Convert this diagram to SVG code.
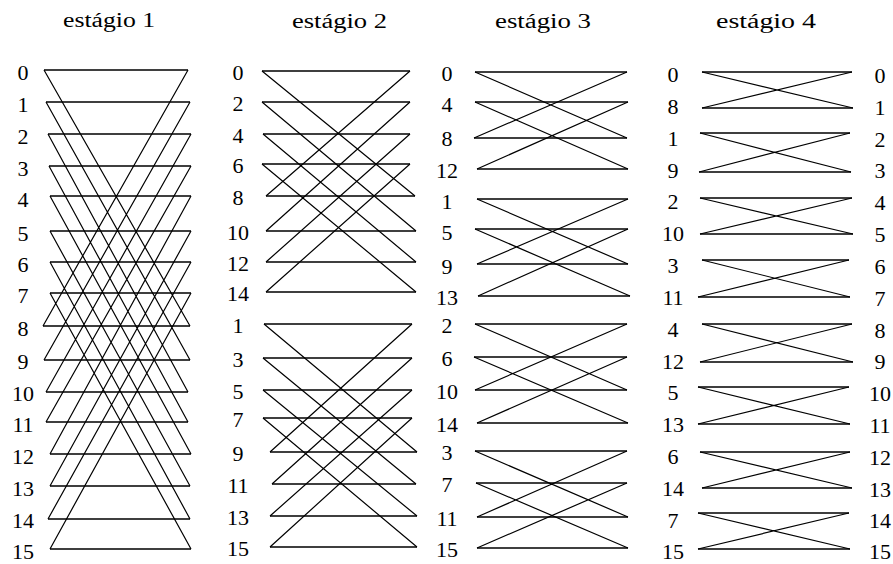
<svg xmlns="http://www.w3.org/2000/svg" width="893" height="564" viewBox="0 0 893 564">
<style>
.t{font-family:"Liberation Serif","DejaVu Serif",serif;font-size:20px;fill:#000}
.n{font-family:"Liberation Serif","DejaVu Serif",serif;font-size:22px;fill:#000;text-anchor:middle}
.h{stroke:#000;stroke-width:1.6;fill:none}
.d{stroke:#000;stroke-width:1.2;fill:none}
</style>
<rect width="893" height="564" fill="#fff"/>
<g id="titles">
<text class="t" x="63" y="27" textLength="92" lengthAdjust="spacingAndGlyphs">estágio 1</text>
<text class="t" x="292" y="28" textLength="95" lengthAdjust="spacingAndGlyphs">estágio 2</text>
<text class="t" x="495" y="28" textLength="96" lengthAdjust="spacingAndGlyphs">estágio 3</text>
<text class="t" x="716" y="28" textLength="100" lengthAdjust="spacingAndGlyphs">estágio 4</text>
</g>
<g id="stage1-labels">
<text class="n" x="23" y="80">0</text><text class="n" x="23" y="112">1</text><text class="n" x="23" y="144">2</text><text class="n" x="23" y="176">3</text>
<text class="n" x="23" y="206.5">4</text><text class="n" x="23" y="240.5">5</text><text class="n" x="23" y="272">6</text><text class="n" x="23" y="303">7</text>
<text class="n" x="23" y="336">8</text><text class="n" x="23" y="368.5">9</text><text class="n" x="23" y="400.5">10</text><text class="n" x="23" y="432">11</text>
<text class="n" x="23" y="464">12</text><text class="n" x="23" y="496">13</text><text class="n" x="23" y="528">14</text><text class="n" x="23" y="558.5">15</text>
</g>
<g id="stage2-labels">
<text class="n" x="238" y="79.5">0</text><text class="n" x="238" y="110.5">2</text><text class="n" x="238" y="142.5">4</text><text class="n" x="238" y="172.5">6</text>
<text class="n" x="238" y="204.5">8</text><text class="n" x="238" y="239.5">10</text><text class="n" x="238" y="270.5">12</text><text class="n" x="238" y="300.5">14</text>
<text class="n" x="238" y="332.5">1</text><text class="n" x="238" y="366.5">3</text><text class="n" x="238" y="398.5">5</text><text class="n" x="238" y="426.5">7</text>
<text class="n" x="238" y="460.5">9</text><text class="n" x="238" y="492.5">11</text><text class="n" x="238" y="524.5">13</text><text class="n" x="238" y="555.5">15</text>
</g>
<g id="stage3-labels">
<text class="n" x="447" y="80.5">0</text><text class="n" x="447" y="111.5">4</text><text class="n" x="447" y="145.5">8</text><text class="n" x="447" y="177.5">12</text>
<text class="n" x="447" y="208.5">1</text><text class="n" x="447" y="239.5">5</text><text class="n" x="447" y="273.5">9</text><text class="n" x="447" y="304.5">13</text>
<text class="n" x="447" y="332.5">2</text><text class="n" x="447" y="365.5">6</text><text class="n" x="447" y="398.5">10</text><text class="n" x="447" y="431.5">14</text>
<text class="n" x="447" y="459.5">3</text><text class="n" x="447" y="491.5">7</text><text class="n" x="447" y="525.5">11</text><text class="n" x="447" y="556.5">15</text>
</g>
<g id="stage4-labels">
<text class="n" x="673" y="81.5">0</text><text class="n" x="673" y="113.5">8</text><text class="n" x="673" y="145.5">1</text><text class="n" x="673" y="177.5">9</text>
<text class="n" x="673" y="208.5">2</text><text class="n" x="673" y="240.5">10</text><text class="n" x="673" y="272.5">3</text><text class="n" x="673" y="304.5">11</text>
<text class="n" x="673" y="336.5">4</text><text class="n" x="673" y="368.5">12</text><text class="n" x="673" y="399.5">5</text><text class="n" x="673" y="431.5">13</text>
<text class="n" x="673" y="463.5">6</text><text class="n" x="673" y="495.5">14</text><text class="n" x="673" y="527.5">7</text><text class="n" x="673" y="559">15</text>
</g>
<g id="output-labels">
<text class="n" x="880" y="82.5">0</text><text class="n" x="880" y="114.5">1</text><text class="n" x="880" y="146.5">2</text><text class="n" x="880" y="177.5">3</text>
<text class="n" x="880" y="209.5">4</text><text class="n" x="880" y="241.5">5</text><text class="n" x="880" y="273.5">6</text><text class="n" x="880" y="305.5">7</text>
<text class="n" x="880" y="337.5">8</text><text class="n" x="880" y="368.5">9</text><text class="n" x="880" y="400.5">10</text><text class="n" x="880" y="432.5">11</text>
<text class="n" x="880" y="464.5">12</text><text class="n" x="880" y="496.5">13</text><text class="n" x="880" y="527.5">14</text><text class="n" x="880" y="559">15</text>
</g>
<g id="connectors">
<g id="stage1-lines">
<path class="h" d="M44 70H188M46 102H190M48 134H191M49 166H191M50 196H191M50 231H191M50 262H191M50 293H191M43 326H190M44 360H190M46 392H188M46 422H188M50 454H191M50 486H190M48 519H190M50 549H191"/>
<path class="d" d="M44 70L190 326M43 326L188 70M46 102L190 360M44 360L190 102M48 134L188 392M46 392L191 134M49 166L188 422M46 422L191 166M50 196L191 454M50 454L191 196M50 231L190 486M50 486L191 231M50 262L190 519M48 519L191 262M50 293L191 549M50 549L191 293"/>
</g>
<g id="stage2-lines">
<path class="h" d="M262 71H410M262 102H410M263 134H410M262 164H410M266 196H415M266 231H416M266 262H416M266 292H416M264 324H412M263 358H412M263 390H412M263 418H412M270 452H417M272 484H416M270 516H417M270 547H417"/>
<path class="d" d="M262 71L415 196M266 196L410 71M262 102L416 231M266 231L410 102M263 134L416 262M266 262L410 134M262 164L416 292M266 292L410 164M264 324L417 452M270 452L412 324M263 358L416 484M272 484L412 358M263 390L417 516M270 516L412 390M263 418L417 547M270 547L412 418"/>
</g>
<g id="stage3-lines">
<path class="h" d="M475 72H627M475 102H628M474 138H627M477 169H628M477 199H628M475 229H628M477 264H628M478 296H630M475 324H627M474 357H627M475 390H627M477 423H628M475 451H627M476 483H627M477 517H628M477 548H628"/>
<path class="d" d="M475 72L627 138M474 138L627 72M475 102L628 169M477 169L628 102M477 199L628 264M477 264L628 199M475 229L630 296M478 296L628 229M475 324L627 390M475 390L627 324M474 357L628 423M477 423L627 357M475 451L628 517M477 517L627 451M476 483L628 548M477 548L627 483"/>
</g>
<g id="stage4-lines">
<path class="h" d="M702 72H852M702 108H853M700 133H850M699 172H851M700 198H852M700 234H853M702 260H849M698 297H850M702 324H852M700 362H853M698 387H849M698 424H850M700 452H850M702 488H852M698 513H849M698 549H850"/>
<path class="d" d="M702 72L853 108M702 108L852 72M700 133L851 172M699 172L850 133M700 198L853 234M700 234L852 198M702 260L850 297M698 297L849 260M702 324L853 362M700 362L852 324M698 387L850 424M698 424L849 387M700 452L852 488M702 488L850 452M698 513L850 549M698 549L849 513"/>
</g>
</g>
</svg>
